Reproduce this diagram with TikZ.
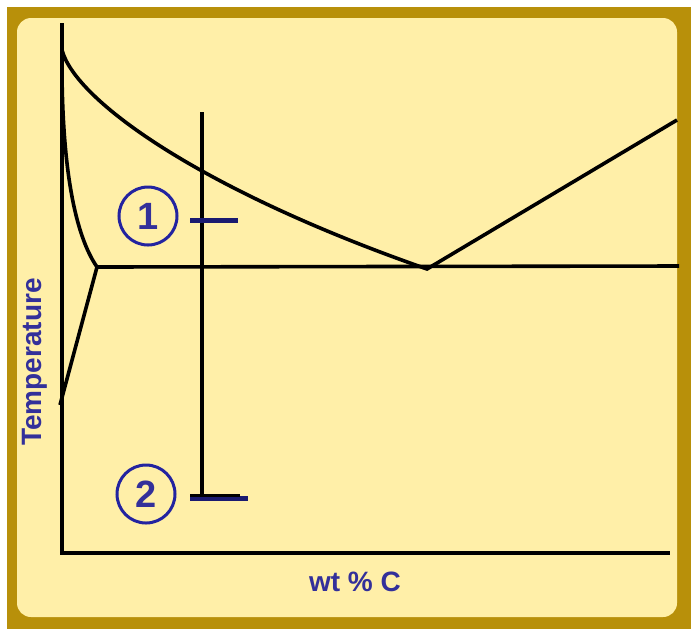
\documentclass[tikz,border=0pt]{standalone}
\usepackage{fontspec}
\setmainfont{Liberation Sans}
\definecolor{gold}{HTML}{B8900A}
\definecolor{paleyellow}{HTML}{FFEFA8}
\definecolor{indigo}{HTML}{33309A}
\definecolor{ringblue}{HTML}{2323A0}
\definecolor{barnavy}{HTML}{1A1A70}

\begin{document}
\begin{tikzpicture}[x=0.5pt,y=-0.5pt,
 curve/.style={line width=1.8pt,black},
 ring/.style={draw=ringblue,circle,line width=1.5pt,minimum size=29pt,inner sep=0pt,text=indigo,font=\fontsize{19}{20}\selectfont\bfseries},
 axislabel/.style={text=indigo,font=\fontsize{14}{16}\selectfont\bfseries},
 bar/.style={line width=2.5pt,barnavy}]
\useasboundingbox (0,0) rectangle (691,629);
\fill[gold] (7,7) rectangle (691,629);
\fill[paleyellow,rounded corners=7pt] (17,18) rectangle (677,617);
% axes and phase boundaries
\coordinate (ytop) at (62,23);
\coordinate (origin) at (62,553);
\coordinate (xend) at (670,553);
\coordinate (liqtop) at (62,50);
\coordinate (eut) at (427,269);
\coordinate (liqend) at (677,120);
\coordinate (solvtop) at (62,75);
\coordinate (triple) at (97,267);
\coordinate (solvend) at (60,405);
\coordinate (eutend) at (679,266);
\coordinate (alloytop) at (202,112);
\coordinate (alloybot) at (202,500);
\draw[curve] (ytop) -- (origin) -- (xend);
\draw[curve] (liqtop) .. controls (75,100) and (200,190) .. (eut) -- (liqend);
\draw[curve] (solvtop) .. controls (63,170) and (75,235) .. (triple) -- (solvend);
\draw[curve] (triple) -- (eutend);
\draw[curve] (alloytop) -- (alloybot);
% temperature marks
\draw[bar] (190,220) -- (238,220);
\draw[bar] (190,498.5) -- (248,498.5);
\draw[curve] (190,495.5) -- (240,495.5);
\node[ring] (one) at (148,216) {1};
\node[ring] (two) at (146,494) {2};
\node[axislabel,rotate=90] (ylabel) at (35,362) {Temperature};
\node[axislabel] (xlabel) at (355,582) {wt \% C};
\end{tikzpicture}
\end{document}
